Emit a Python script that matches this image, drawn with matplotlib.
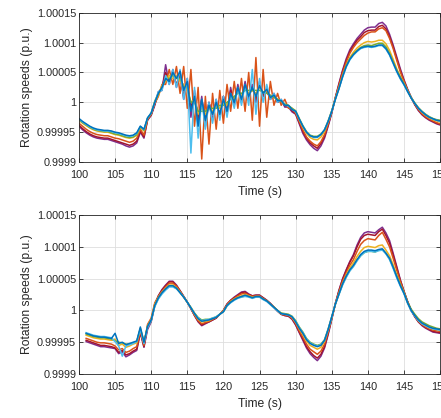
import numpy as np
import matplotlib
matplotlib.use("Agg")
import matplotlib.pyplot as plt

plt.rcParams['font.family'] = ['Liberation Sans', 'DejaVu Sans']

# deviations from 1 p.u., in units of 1e-5
t_top = np.arange(100, 150.25, 0.5)
t_bot = np.arange(101, 150.25, 0.5)

top_blue = [
    -2.7, -3.2, -3.6, -4.0, -4.3, -4.5, -4.6, -4.7, -4.7, -4.8,
    -5.0, -5.1, -5.3, -5.5, -5.6, -5.5, -5.1, -4.0, -4.5, -2.6,
    -1.8, 0.0, 1.5, 2.5, 4.0, 3.5, 5.0, 4.0, 5.2, 2.0,
    3.5, -1.5, 1.0, -4.0, 0.5, -3.0, -0.5, -2.0, 0.0, -2.0,
    0.5, -1.5, 1.5, 0.0, 2.5, 0.5, 3.0, 1.0, 2.5, 1.0,
    2.8, 1.5, 2.2, 0.8, 1.2, 0.3, 0.3, -0.5, -0.5, -1.2,
    -1.5, -2.8, -4.0, -5.0, -5.6, -5.8, -5.8, -5.4, -4.6, -3.2,
    -1.5, 0.5, 2.3, 4.3, 6.0, 7.2, 8.0, 8.6, 9.1, 9.3,
    9.4, 9.3, 9.4, 9.6, 9.6, 9.0, 8.0, 6.6, 5.2, 4.0,
    3.0, 1.8, 0.7, -0.2, -1.0, -1.6, -2.1, -2.5, -2.75, -3.0,
    -3.1]
top_orange = [
    -3.5, -4.0, -4.5, -4.9, -5.2, -5.4, -5.5, -5.6, -5.6, -5.8,
    -6.0, -6.1, -6.3, -6.5, -6.7, -6.5, -6.0, -4.5, -5.5, -2.8,
    -2.0, -0.2, 1.0, 3.0, 3.0, 5.5, 3.0, 6.0, 1.5, 6.0,
    -1.0, 5.5, -4.0, 2.5, -9.5, 1.0, -7.0, 1.5, -4.5, 2.0,
    -3.5, 3.0, -1.5, 3.5, -1.0, 4.0, -1.5, 5.0, -3.0, 7.5,
    -4.0, 5.5, -2.5, 3.5, -0.5, 1.5, -0.5, 0.5, -1.0, -1.0,
    -1.8, -3.2, -4.6, -5.8, -6.5, -7.0, -7.3, -6.6, -5.4, -3.6,
    -1.6, 0.7, 2.8, 4.9, 6.7, 8.2, 9.2, 10.0, 10.6, 11.2,
    11.6, 11.8, 11.8, 12.3, 12.5, 12.0, 10.7, 9.0, 7.0, 5.1,
    3.5, 2.0, 0.8, -0.3, -1.2, -1.9, -2.4, -2.8, -3.1, -3.4,
    -3.6]
top_yellow = [
    -3.0, -3.5, -3.9, -4.3, -4.6, -4.8, -4.9, -5.0, -5.0, -5.2,
    -5.4, -5.5, -5.7, -5.9, -6.0, -5.9, -5.5, -4.2, -4.8, -2.7,
    -1.9, 0.0, 1.2, 2.8, 3.5, 4.5, 4.0, 4.5, 3.5, 3.0,
    2.0, 0.0, 0.5, -2.0, -1.0, -2.0, -1.0, -1.5, -0.5, -1.0,
    0.0, -0.5, 1.0, 0.5, 2.0, 1.0, 2.5, 1.5, 2.0, 1.5,
    2.5, 1.5, 2.0, 1.0, 1.0, 0.5, 0.2, -0.3, -0.6, -1.1,
    -1.6, -2.9, -4.2, -5.2, -5.9, -6.2, -6.3, -5.8, -4.9, -3.3,
    -1.5, 0.6, 2.5, 4.5, 6.2, 7.5, 8.4, 9.1, 9.6, 10.0,
    10.2, 10.1, 10.2, 10.4, 10.4, 9.8, 8.7, 7.2, 5.6, 4.3,
    3.2, 1.9, 0.7, -0.2, -1.0, -1.7, -2.2, -2.6, -2.9, -3.1,
    -3.3]
top_purple = [
    -4.0, -4.6, -5.1, -5.5, -5.8, -6.0, -6.1, -6.2, -6.2, -6.4,
    -6.6, -6.8, -7.0, -7.3, -7.5, -7.3, -6.8, -5.0, -6.0, -3.0,
    -2.2, -0.5, 1.8, 2.0, 6.3, 3.0, 5.5, 2.5, 5.0, 0.5,
    4.0, -2.5, 2.0, -3.5, 1.0, -4.0, 0.0, -3.0, 0.5, -2.5,
    1.0, -2.0, 2.5, -0.5, 3.0, 0.0, 3.5, 0.5, 3.0, 0.0,
    3.5, 1.0, 2.0, 0.5, 1.5, 0.0, 0.5, -0.8, -0.8, -1.6,
    -2.0, -3.6, -5.2, -6.3, -7.1, -7.7, -8.1, -7.3, -6.0, -4.0,
    -1.8, 0.8, 3.2, 5.4, 7.3, 8.8, 9.8, 10.7, 11.4, 12.1,
    12.5, 12.6, 12.6, 13.2, 13.4, 12.8, 11.4, 9.6, 7.6, 5.6,
    3.8, 2.2, 0.8, -0.4, -1.4, -2.1, -2.6, -3.0, -3.3, -3.6,
    -3.8]
top_green = [
    -2.9, -3.4, -3.8, -4.2, -4.5, -4.7, -4.8, -4.9, -4.9, -5.1,
    -5.3, -5.4, -5.6, -5.8, -5.9, -5.8, -5.4, -4.1, -4.7, -2.7,
    -1.8, 0.2, 1.5, 2.5, 4.0, 4.0, 4.5, 4.0, 4.0, 2.5,
    2.5, 0.0, 0.0, -1.5, -1.5, -1.5, -1.0, -1.0, -1.0, -0.5,
    -0.5, 0.0, 0.5, 1.0, 1.5, 1.5, 2.0, 2.0, 2.0, 2.0,
    2.0, 1.8, 1.5, 1.2, 0.8, 0.5, 0.2, -0.3, -0.5, -1.0,
    -1.4, -2.7, -3.9, -4.9, -5.5, -5.7, -5.7, -5.3, -4.6, -3.1,
    -1.4, 0.6, 2.4, 4.4, 6.1, 7.3, 8.1, 8.7, 9.2, 9.5,
    9.6, 9.5, 9.7, 9.9, 9.9, 9.3, 8.2, 6.8, 5.4, 4.2,
    3.1, 1.9, 0.8, -0.1, -0.9, -1.5, -2.0, -2.4, -2.7, -2.9,
    -3.0]
top_cyan = [
    -2.8, -3.3, -3.7, -4.1, -4.4, -4.6, -4.7, -4.8, -4.8, -4.9,
    -5.1, -5.2, -5.4, -5.6, -5.7, -5.6, -5.2, -4.0, -4.6, -2.6,
    -1.8, 0.0, 1.8, 2.0, 4.5, 3.0, 5.5, 2.5, 5.5, 0.5,
    4.0, -8.5, 2.5, -6.0, 0.5, -4.5, 0.0, -3.5, 0.5, -3.0,
    1.0, -2.5, 1.5, -1.0, 2.5, -0.5, 3.0, -0.5, 5.5, -2.0,
    4.0, 0.0, 3.0, 0.5, 1.5, 0.0, 0.5, -0.5, -0.6, -1.2,
    -1.5, -2.8, -4.0, -5.0, -5.6, -5.9, -5.9, -5.4, -4.6, -3.2,
    -1.5, 0.5, 2.3, 4.2, 5.9, 7.1, 7.9, 8.5, 9.0, 9.2,
    9.3, 9.2, 9.3, 9.5, 9.5, 8.9, 7.9, 6.5, 5.1, 3.9,
    2.9, 1.8, 0.7, -0.2, -1.0, -1.6, -2.1, -2.5, -2.8, -3.0,
    -3.2]
top_darkred = [
    -3.8, -4.4, -4.9, -5.3, -5.6, -5.8, -5.9, -6.0, -6.0, -6.2,
    -6.4, -6.6, -6.8, -7.0, -7.2, -7.0, -6.5, -4.8, -5.8, -2.9,
    -2.1, -0.3, 1.5, 2.5, 5.0, 3.5, 5.0, 3.0, 4.5, 1.0,
    3.0, -1.0, 1.5, -2.5, 0.5, -3.0, 0.0, -2.0, 0.0, -2.0,
    1.0, -1.5, 2.0, 0.0, 2.5, 0.5, 3.0, 1.0, 2.5, 0.5,
    3.0, 1.0, 2.0, 0.5, 1.2, 0.0, 0.3, -0.6, -0.7, -1.4,
    -1.9, -3.4, -4.9, -6.0, -6.8, -7.3, -7.7, -6.9, -5.7, -3.8,
    -1.7, 0.8, 3.0, 5.2, 7.0, 8.5, 9.5, 10.4, 11.0, 11.7,
    12.0, 12.1, 12.1, 12.7, 12.9, 12.3, 11.0, 9.3, 7.3, 5.3,
    3.6, 2.1, 0.8, -0.4, -1.3, -2.0, -2.5, -2.9, -3.2, -3.5,
    -3.7]

bot_blue = [
    -3.6, -3.8, -4.0, -4.1, -4.2, -4.2, -4.3, -4.4, -3.6, -5.2,
    -5.0, -5.4, -5.2, -5.0, -4.8, -2.6, -5.0, -2.5, -1.5, 0.8,
    2.0, 2.8, 3.4, 3.9, 3.9, 3.5, 2.8, 2.1, 1.3, 0.4,
    -0.5, -1.3, -1.7, -1.6, -1.5, -1.3, -1.1, -0.6, -0.2, 0.8,
    1.3, 1.7, 2.0, 2.2, 2.4, 2.2, 2.0, 2.2, 2.2, 1.8,
    1.5, 1.0, 0.5, 0.0, -0.5, -0.6, -0.7, -1.0, -1.8, -2.8,
    -3.6, -4.6, -5.2, -5.5, -5.7, -5.5, -4.7, -3.0, -1.0, 1.0,
    2.6, 4.2, 5.4, 6.4, 7.1, 8.0, 8.8, 9.3, 9.5, 9.5,
    9.4, 9.6, 9.7, 9.0, 8.2, 6.8, 5.3, 3.9, 2.7, 1.2,
    0.0, -0.8, -1.5, -2.0, -2.3, -2.6, -2.8, -2.9, -3.0]
bot_orange = [
    -4.4, -4.6, -4.8, -5.0, -5.1, -5.1, -5.2, -5.3, -5.6, -6.2,
    -6.0, -6.6, -6.4, -6.0, -5.7, -3.2, -5.5, -2.2, -1.2, 1.2,
    2.2, 3.0, 3.7, 4.3, 4.3, 3.8, 3.0, 2.2, 1.3, 0.3,
    -0.7, -1.6, -2.1, -1.9, -1.7, -1.4, -1.1, -0.6, 0.0, 0.9,
    1.5, 1.9, 2.3, 2.6, 2.7, 2.4, 2.2, 2.3, 2.3, 1.9,
    1.5, 1.0, 0.5, -0.1, -0.6, -0.7, -0.8, -1.2, -2.0, -3.2,
    -4.2, -5.3, -6.1, -6.5, -6.9, -6.4, -5.3, -3.4, -1.2, 1.0,
    2.9, 4.6, 5.9, 7.1, 8.0, 9.3, 10.4, 11.0, 11.3, 11.2,
    11.1, 11.8, 12.3, 11.2, 10.0, 8.2, 6.3, 4.5, 2.9, 1.3,
    0.0, -0.9, -1.7, -2.2, -2.6, -2.9, -3.1, -3.2, -3.3]
bot_yellow = [
    -3.9, -4.1, -4.3, -4.4, -4.5, -4.5, -4.6, -4.7, -4.5, -5.5,
    -5.3, -5.8, -5.6, -5.3, -5.1, -2.9, -5.2, -2.4, -1.4, 1.0,
    2.1, 2.9, 3.5, 4.0, 4.0, 3.6, 2.9, 2.1, 1.3, 0.4,
    -0.6, -1.4, -1.8, -1.7, -1.6, -1.3, -1.1, -0.6, -0.1, 0.8,
    1.4, 1.8, 2.1, 2.3, 2.5, 2.3, 2.1, 2.2, 2.2, 1.8,
    1.5, 1.0, 0.5, 0.0, -0.5, -0.6, -0.7, -1.1, -1.9, -2.9,
    -3.8, -4.8, -5.5, -5.8, -6.1, -5.8, -4.9, -3.1, -1.1, 1.0,
    2.7, 4.3, 5.6, 6.7, 7.5, 8.5, 9.3, 9.9, 10.1, 10.0,
    9.9, 10.2, 10.3, 9.5, 8.6, 7.2, 5.6, 4.1, 2.8, 1.2,
    0.0, -0.8, -1.6, -2.1, -2.4, -2.7, -2.9, -3.0, -3.1]
bot_purple = [
    -4.9, -5.1, -5.3, -5.5, -5.7, -5.7, -5.8, -5.9, -6.0, -6.8,
    -6.5, -7.3, -7.0, -6.6, -6.3, -3.5, -5.8, -3.0, -1.8, 0.8,
    2.3, 3.3, 4.0, 4.6, 4.6, 4.0, 3.1, 2.2, 1.3, 0.3,
    -0.8, -1.8, -2.4, -2.1, -1.8, -1.5, -1.2, -0.6, 0.0, 1.0,
    1.6, 2.1, 2.5, 2.9, 3.0, 2.6, 2.3, 2.4, 2.4, 2.0,
    1.6, 1.1, 0.5, -0.1, -0.6, -0.8, -0.9, -1.4, -2.3, -3.5,
    -4.7, -5.9, -6.8, -7.4, -7.9, -7.2, -5.9, -3.8, -1.4, 1.1,
    3.2, 5.0, 6.4, 7.7, 8.8, 10.3, 11.5, 12.2, 12.4, 12.3,
    12.2, 12.7, 13.1, 12.2, 11.0, 9.0, 6.9, 4.8, 3.0, 1.4,
    0.0, -1.0, -1.8, -2.4, -2.8, -3.1, -3.4, -3.5, -3.6]
bot_green = [
    -3.7, -3.9, -4.1, -4.2, -4.3, -4.3, -4.4, -4.5, -4.8, -5.0,
    -5.1, -5.3, -5.3, -5.1, -4.9, -2.8, -4.9, -2.6, -1.6, 0.7,
    1.9, 2.7, 3.3, 3.8, 3.8, 3.5, 2.8, 2.1, 1.3, 0.5,
    -0.4, -1.1, -1.5, -1.4, -1.4, -1.2, -1.0, -0.6, -0.2, 0.7,
    1.3, 1.7, 2.0, 2.1, 2.3, 2.2, 2.0, 2.1, 2.1, 1.8,
    1.5, 1.0, 0.5, 0.0, -0.4, -0.5, -0.6, -0.9, -1.6, -2.6,
    -3.4, -4.4, -5.0, -5.3, -5.5, -5.3, -4.6, -2.9, -1.0, 1.0,
    2.6, 4.1, 5.3, 6.3, 7.0, 7.9, 8.6, 9.1, 9.3, 9.3,
    9.2, 9.5, 9.6, 9.0, 8.1, 6.8, 5.4, 4.0, 2.8, 1.3,
    0.2, -0.6, -1.3, -1.8, -2.1, -2.4, -2.6, -2.8, -2.9]
bot_cyan = [
    -3.5, -3.7, -3.9, -4.0, -4.1, -4.1, -4.2, -4.3, -4.9, -5.6,
    -7.2, -5.6, -5.4, -5.2, -4.9, -3.0, -5.2, -2.7, -1.6, 0.6,
    1.8, 2.6, 3.2, 3.7, 3.7, 3.4, 2.8, 2.1, 1.3, 0.4,
    -0.5, -1.2, -1.6, -1.5, -1.4, -1.2, -1.0, -0.6, -0.2, 0.7,
    1.2, 1.6, 1.9, 2.1, 2.2, 2.1, 1.9, 2.1, 2.1, 1.7,
    1.4, 0.9, 0.4, -0.1, -0.5, -0.6, -0.7, -1.0, -1.7, -2.7,
    -3.5, -4.5, -5.1, -5.4, -5.6, -5.4, -4.7, -3.0, -1.0, 1.0,
    2.5, 4.0, 5.2, 6.2, 6.9, 7.8, 8.6, 9.1, 9.3, 9.3,
    9.2, 9.4, 9.5, 8.9, 8.0, 6.6, 5.1, 3.8, 2.6, 1.1,
    -0.1, -0.9, -1.6, -2.1, -2.4, -2.7, -2.9, -3.0, -3.1]
bot_darkred = [
    -4.7, -4.9, -5.1, -5.3, -5.5, -5.5, -5.6, -5.7, -5.9, -6.6,
    -6.3, -7.0, -6.8, -6.4, -6.1, -3.4, -5.7, -2.6, -1.6, 1.0,
    2.3, 3.2, 3.9, 4.5, 4.5, 3.9, 3.1, 2.2, 1.3, 0.3,
    -0.8, -1.7, -2.3, -2.0, -1.8, -1.5, -1.2, -0.6, 0.0, 1.0,
    1.6, 2.0, 2.4, 2.8, 2.9, 2.5, 2.3, 2.4, 2.4, 2.0,
    1.6, 1.1, 0.5, -0.1, -0.6, -0.8, -0.9, -1.3, -2.2, -3.4,
    -4.5, -5.7, -6.5, -7.1, -7.5, -6.9, -5.7, -3.6, -1.3, 1.1,
    3.1, 4.9, 6.3, 7.6, 8.6, 10.0, 11.2, 11.8, 12.0, 11.9,
    11.8, 12.4, 12.8, 11.8, 10.6, 8.7, 6.7, 4.7, 3.0, 1.4,
    0.0, -1.0, -1.8, -2.3, -2.7, -3.0, -3.3, -3.4, -3.5]

# MATLAB default colour order
colors = {
    'blue': '#0072BD', 'orange': '#D95319', 'yellow': '#EDB120',
    'purple': '#7E2F8E', 'green': '#77AC30', 'cyan': '#4DBEEE',
    'darkred': '#A2142F',
}

top_series = {'purple': top_purple, 'darkred': top_darkred, 'orange': top_orange,
              'yellow': top_yellow, 'green': top_green, 'cyan': top_cyan, 'blue': top_blue}
bot_series = {'purple': bot_purple, 'darkred': bot_darkred, 'orange': bot_orange,
              'yellow': bot_yellow, 'green': bot_green, 'cyan': bot_cyan, 'blue': bot_blue}

yticks = [0.9999, 0.99995, 1.0, 1.00005, 1.0001, 1.00015]
ytick_labels = ['0.9999', '0.99995', '1', '1.00005', '1.0001', '1.00015']
xticks = [100, 105, 110, 115, 120, 125, 130, 135, 140, 145, 150]

fig = plt.figure(figsize=(4.41, 4.18), dpi=100)
ax1 = fig.add_axes([0.179, 0.6124, 0.819, 0.357])
ax2 = fig.add_axes([0.179, 0.1053, 0.819, 0.380])

for ax, t, series in [(ax1, t_top, top_series), (ax2, t_bot, bot_series)]:
    for name, dev in series.items():
        assert len(dev) == len(t), (name, len(dev), len(t))
        ax.plot(t, 1 + np.array(dev) * 1e-5, color=colors[name], lw=1.1)
    ax.set_xlim(100, 150)
    ax.set_ylim(0.9999, 1.00015)
    ax.set_xticks(xticks)
    ax.set_yticks(yticks)
    ax.set_yticklabels(ytick_labels)
    ax.tick_params(direction='in', top=True, right=True, labelsize=7.8,
                   length=3, width=0.6, colors='#262626')
    ax.tick_params(axis='x', pad=6)
    ax.tick_params(axis='y', pad=2)
    ax.grid(True, color='#dedede', lw=0.6)
    ax.set_axisbelow(True)
    for sp in ax.spines.values():
        sp.set_color('#262626')
        sp.set_linewidth(0.6)
    ax.set_xlabel('Time (s)', fontsize=8.7, color='#262626', labelpad=4)
    ax.set_ylabel('Rotation speeds (p.u.)', fontsize=8.7, color='#262626', labelpad=3)

fig.savefig('out.png', dpi=100)
